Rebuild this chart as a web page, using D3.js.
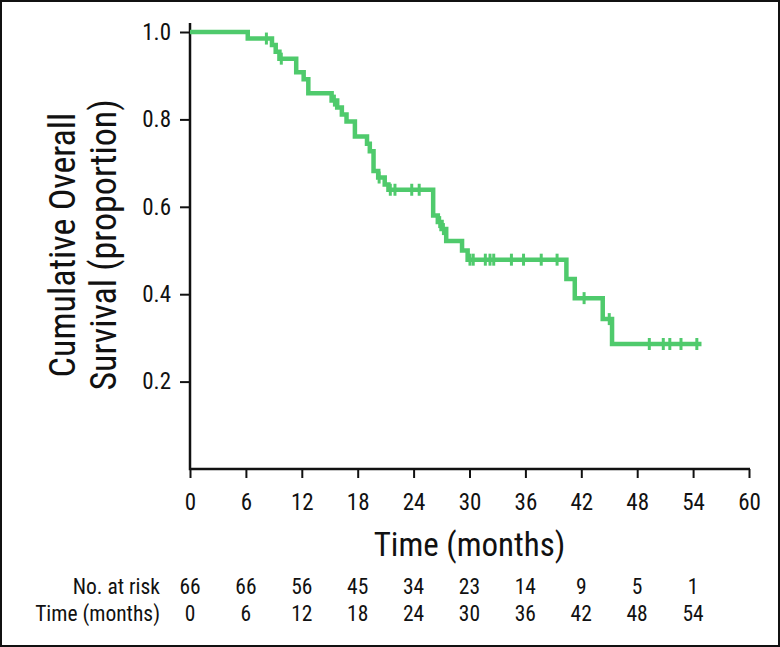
<!DOCTYPE html>
<html>
<head>
<meta charset="utf-8">
<script src="https://cdn.jsdelivr.net/npm/d3@7"></script>
<style>
  body { margin: 0; background: #fff; }
  svg { display: block; }
  text { fill: #111; font-family: "Roboto Condensed", "Liberation Sans Narrow", "DejaVu Sans Condensed", Roboto, sans-serif; }
</style>
</head>
<body>
<div id="chart"></div>
<script>
const width = 780
const height = 647
const margin = { top: 32, bottom: 178, left: 190, right: 31 }

// survival curve: step times (months) and survival after each step
const stepTimes = [0, 6.2, 8.8, 9.2, 9.6, 11.4, 12.2, 12.7, 15.2, 15.8, 16.3, 16.8, 17.7, 19.0, 19.3, 19.7, 20.2, 20.9, 21.3, 26.1, 26.6, 27.0, 27.5, 29.2, 29.8, 40.4, 41.3, 44.3, 45.3]
const survival = [1.0, 0.985, 0.970, 0.955, 0.939, 0.908, 0.892, 0.860, 0.843, 0.827, 0.811, 0.795, 0.761, 0.744, 0.727, 0.682, 0.667, 0.651, 0.639, 0.580, 0.565, 0.549, 0.522, 0.500, 0.479, 0.435, 0.391, 0.343, 0.286]
const lastFollowUp = 54.9
const censorTimes = [8.2, 9.8, 15.5, 20.3, 21.5, 22.0, 23.8, 24.6, 26.8, 27.2, 30.05, 30.4, 31.7, 32.2, 32.6, 34.5, 35.8, 37.7, 39.4, 42.3, 45.0, 49.3, 50.8, 51.5, 52.7, 54.4]

const xTicks = [0, 6, 12, 18, 24, 30, 36, 42, 48, 54, 60]
const yTicks = [0.2, 0.4, 0.6, 0.8, 1.0]
const riskTimes = [0, 6, 12, 18, 24, 30, 36, 42, 48, 54]
const atRisk = [66, 66, 56, 45, 34, 23, 14, 9, 5, 1]

const green = "#4fca6c"

const svg = d3.select("div#chart").append("svg").attr("width", width).attr("height", height)

// outer frame
svg.append("rect").attr("x", 1).attr("y", 1).attr("width", width - 2).attr("height", height - 2)
    .attr("fill", "none").attr("stroke", "#111").attr("stroke-width", 2)

const x = d3.scaleLinear().domain([0, 60]).range([margin.left, width - margin.right])
const y = d3.scaleLinear().domain([0, 1]).range([height - margin.bottom, margin.top])

const xAxis = d3.axisBottom(x).tickValues(xTicks).tickSize(9).tickPadding(16).tickSizeOuter(0)
const yAxis = d3.axisLeft(y).tickValues(yTicks).tickSize(10).tickPadding(9).tickFormat(d3.format(".1f"))

const xAxisGroup = svg.append("g").attr("transform", `translate(0, ${y(0)})`).call(xAxis)
const yAxisGroup = svg.append("g").attr("transform", `translate(${x(0)}, 0)`).call(yAxis)

xAxisGroup.select(".domain").remove()
yAxisGroup.select(".domain").remove()
svg.selectAll("g").attr("font-family", null)
svg.selectAll(".tick line").attr("stroke", "#111").attr("stroke-width", 2)
svg.selectAll(".tick text").style("font-size", "23px").attr("fill", "#111")

// axis lines
svg.append("path")
    .attr("d", `M${x(0)},${margin.top - 9}V${y(0)}H${x(60) + 1}`)
    .attr("fill", "none").attr("stroke", "#111").attr("stroke-width", 2.5)

// curve
const points = stepTimes.map((t, i) => [t, survival[i]])
points.push([lastFollowUp, survival[survival.length - 1]])

const lineFunc = d3.line()
    .x(d => x(d[0]))
    .y(d => y(d[1]))
    .curve(d3.curveStepAfter)

svg.append("path")
    .attr("d", lineFunc(points))
    .attr("fill", "none")
    .attr("stroke", green)
    .attr("stroke-width", 4.5)

const survAt = t => survival[d3.bisectRight(stepTimes, t) - 1]

svg.selectAll("line.censor").data(censorTimes).enter().append("line")
    .attr("class", "censor")
    .attr("x1", d => x(d)).attr("x2", d => x(d))
    .attr("y1", d => y(survAt(d)) - 6)
    .attr("y2", d => y(survAt(d)) + 6)
    .attr("stroke", green)
    .attr("stroke-width", 3)

// axis titles
svg.append("text").attr("x", (x(0) + x(60)) / 2).attr("y", 556)
    .attr("text-anchor", "middle").style("font-size", "33px").text("Time (months)")

const yLabel = svg.append("g").attr("transform", "translate(0, 245) rotate(-90)")
yLabel.append("text").attr("x", 0).attr("y", 75).attr("text-anchor", "middle")
    .style("font-size", "36px").text("Cumulative Overall")
yLabel.append("text").attr("x", 0).attr("y", 116).attr("text-anchor", "middle")
    .style("font-size", "36px").text("Survival (proportion)")

// number at risk table
const colX = d3.scalePoint().domain(riskTimes).range([190, 693])

svg.append("text").attr("x", 160).attr("y", 594).attr("text-anchor", "end")
    .style("font-size", "21.5px").text("No. at risk")
svg.append("text").attr("x", 160).attr("y", 621).attr("text-anchor", "end")
    .style("font-size", "21.5px").text("Time (months)")

svg.selectAll("text.risk").data(atRisk).enter().append("text")
    .attr("class", "risk")
    .attr("x", (d, i) => colX(riskTimes[i])).attr("y", 594)
    .attr("text-anchor", "middle").style("font-size", "21.5px")
    .text(d => d)

svg.selectAll("text.rtime").data(riskTimes).enter().append("text")
    .attr("class", "rtime")
    .attr("x", d => colX(d)).attr("y", 621)
    .attr("text-anchor", "middle").style("font-size", "21.5px")
    .text(d => d)
</script>
</body>
</html>
